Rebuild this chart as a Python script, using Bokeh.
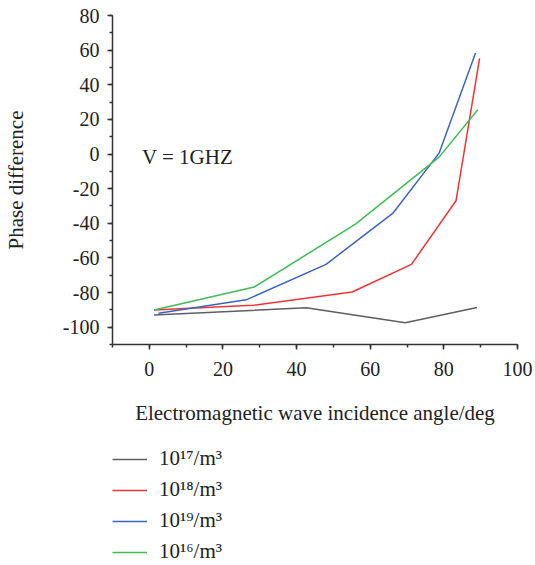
from bokeh.plotting import figure
from bokeh.layouts import column
from bokeh.models import Range1d, SingleIntervalTicker, Legend, LegendItem, Label, PrintfTickFormatter
from bokeh.embed import file_html
from bokeh.resources import INLINE

# Data
x_1e17 = [1.3, 42.6, 69.5, 89.0]
y_1e17 = [-93.0, -88.8, -97.5, -88.6]

x_1e18 = [1.3, 28.0, 55.1, 71.2, 83.3, 89.7]
y_1e18 = [-90.1, -87.4, -79.7, -63.7, -27.0, 55.2]

x_1e19 = [2.5, 26.3, 48.0, 66.1, 78.7, 88.6]
y_1e19 = [-91.9, -84.2, -63.7, -34.3, 0.5, 58.4]

x_1e16 = [1.3, 28.5, 56.0, 78.7, 89.2]
y_1e16 = [-90.1, -76.8, -40.5, -1.8, 25.6]

labels = ["10\u00b9\u2077/m\u00b3", "10\u00b9\u2078/m\u00b3", "10\u00b9\u2079/m\u00b3", "10\u00b9\u2076/m\u00b3"]
colors = ["#5f5f5f", "#ef3434", "#3d63c2", "#3fbb57"]
series = [(x_1e17, y_1e17), (x_1e18, y_1e18), (x_1e19, y_1e19), (x_1e16, y_1e16)]

FONT = "Liberation Serif"

p = figure(output_backend="svg", toolbar_location=None,
           frame_width=405, frame_height=329,
           min_border_left=110, min_border_right=15, min_border_top=15, min_border_bottom=86,
           x_range=Range1d(-10, 100), y_range=Range1d(-110, 80))
p.outline_line_color = None
p.xgrid.visible = False
p.ygrid.visible = False

p.xaxis.ticker = SingleIntervalTicker(interval=20, num_minor_ticks=2)
p.yaxis.ticker = SingleIntervalTicker(interval=20, num_minor_ticks=2)
p.xaxis.formatter = PrintfTickFormatter(format="%d")
p.yaxis.formatter = PrintfTickFormatter(format="%d")

for ax in (p.xaxis, p.yaxis):
    ax.axis_line_color = "#333333"
    ax.axis_line_width = 1.5
    ax.major_tick_line_color = "#333333"
    ax.minor_tick_line_color = "#333333"
    ax.major_tick_line_width = 1.5
    ax.minor_tick_line_width = 1.5
    ax.major_tick_in = 0
    ax.minor_tick_in = 0
    ax.major_tick_out = 5
    ax.minor_tick_out = 3
    ax.major_label_text_font = FONT
    ax.major_label_text_font_size = "20px"
    ax.major_label_text_color = "#222222"
    ax.axis_label_text_font = FONT
    ax.axis_label_text_font_size = "21px"
    ax.axis_label_text_font_style = "normal"
    ax.axis_label_text_color = "#222222"

p.xaxis.axis_label = "Electromagnetic wave incidence angle/deg"
p.yaxis.axis_label = "Phase difference"
p.xaxis.major_label_standoff = 12
p.yaxis.major_label_standoff = 8
p.xaxis.axis_label_standoff = 22
p.yaxis.axis_label_standoff = 32

for (xs, ys), c in zip(series, colors):
    p.line(xs, ys, line_color=c, line_width=1.5)

p.add_layout(Label(x=-2, y=-2, text="V = 1GHZ", text_font=FONT, text_font_size="21px",
                   text_color="#222222", text_baseline="middle", text_align="left"))

# Legend panel below the chart (same series; lines sit outside this panel's view)
q = figure(output_backend="svg", toolbar_location=None,
           frame_width=405, frame_height=134,
           min_border_left=110, min_border_right=15, min_border_top=0, min_border_bottom=0,
           x_range=Range1d(1000, 1001), y_range=Range1d(1000, 1001),
           x_axis_location=None, y_axis_location=None)
q.outline_line_color = None
q.xgrid.visible = False
q.ygrid.visible = False

items = []
for (xs, ys), c, lab in zip(series, colors, labels):
    r = q.line(xs, ys, line_color=c, line_width=1.5)
    items.append(LegendItem(label=lab, renderers=[r]))

legend = Legend(items=items, location=(0, 0), orientation="vertical",
                border_line_color=None, background_fill_alpha=0,
                label_text_font=FONT, label_text_font_size="21px", label_text_color="#222222",
                glyph_width=35, glyph_height=24, label_height=24, label_standoff=12,
                spacing=6, padding=1, margin=0)
q.add_layout(legend, "center")

layout = column(p, q, spacing=0)
open("out.html", "w").write(file_html(layout, INLINE))
